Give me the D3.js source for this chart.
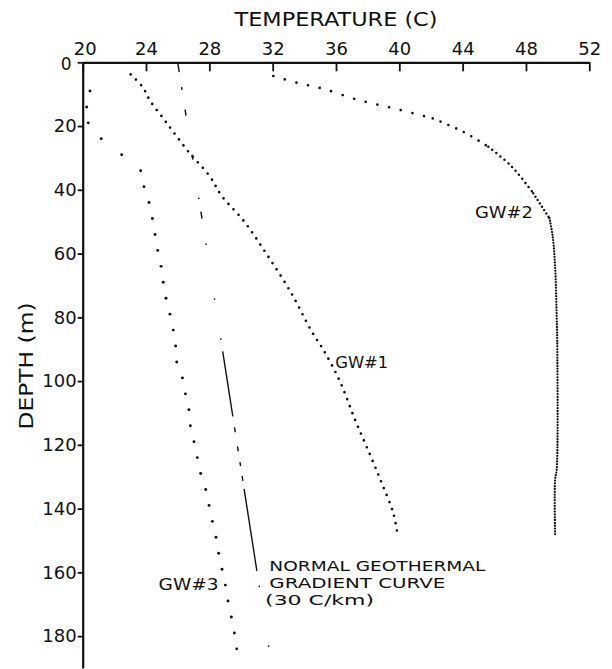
<!DOCTYPE html>
<html><head><meta charset="utf-8">
<script src="https://cdn.jsdelivr.net/npm/d3@7"></script>
<style>
body{margin:0;background:#fff}
svg{display:block}
text{font-family:"DejaVu Sans",sans-serif;fill:#111}
</style>
</head><body>
<svg id="c" width="612" height="669"></svg>
<script>
// ---- data ----
const tempTicks = [20, 24, 28, 32, 36, 40, 44, 48, 52];
const depthTicks = [0, 20, 40, 60, 80, 100, 120, 140, 160, 180];

// GW#1 temperature profile (key readings along the dotted curve)
const gw1Temp  = [23.03, 23.79, 24.25, 25.09, 25.72, 26.67, 28.00, 28.78, 30.21, 31.58, 33.14, 34.47, 35.20, 36.25, 37.20, 38.15, 38.89, 39.62, 39.87];
const gw1Depth = [3.8, 7.8, 12.0, 17.6, 21.8, 28.0, 35.6, 41.9, 50.0, 59.9, 72.1, 84.5, 90.2, 100.1, 112.1, 123.1, 132.0, 141.4, 147.6];

// GW#2 temperature profile
const gw2Temp  = [32.04, 33.52, 35.10, 37.41, 39.77, 42.11, 44.04, 45.62, 47.10, 48.46, 49.48, 49.69, 49.84, 49.94, 49.98, 49.94, 49.84, 49.84];
const gw2Depth = [4.3, 6.4, 8.2, 11.8, 14.6, 17.6, 21.8, 26.5, 32.7, 41.1, 48.9, 54.7, 64.1, 79.7, 90.2, 127.8, 130.9, 148.1];

// GW#3 temperature readings (every 5 m)
const gw3Temp  = [20.46, 20.25, 20.35, 21.17, 22.46, 23.66, 23.87, 24.19, 24.40, 24.57, 24.74, 24.95, 25.09, 25.26, 25.51, 25.72, 25.87, 25.94, 26.30, 26.49, 26.71, 26.80, 27.03, 27.24, 27.45, 27.77, 27.98, 28.19, 28.42, 28.59, 28.80, 29.01, 29.18, 29.39, 29.58, 29.73];
const gw3Depth = [9, 14, 19, 24, 29, 34, 39, 44, 49, 54, 59, 64, 69, 74, 79, 84, 89, 94, 99, 104, 109, 114, 119, 124, 129, 134, 139, 144, 149, 154, 159, 164, 169, 174, 179, 184];

// Normal geothermal gradient (30 C/km)
const normalTemp  = [26.0, 31.8];
const normalDepth = [0, 185];

// ---- chart ----
const svg = d3.select("#c");
const x = d3.scaleLinear().domain([20, 52]).range([82.7, 589.3]);
const y = d3.scaleLinear().domain([0, 190]).range([62.3, 668]);

const zip = (t, d) => t.map((v, i) => ({t: v, d: d[i]}));
const line = d3.line().x(p => x(p.t)).y(p => y(p.d)).curve(d3.curveCatmullRom);

// axes
const ax = svg.append("g").attr("transform", `translate(0,${y(0)})`)
  .call(d3.axisTop(x).tickValues(tempTicks).tickSize(-9).tickSizeOuter(0).tickPadding(7).tickFormat(d3.format("d")));
const ay = svg.append("g").attr("transform", `translate(${x(20)},0)`)
  .call(d3.axisLeft(y).tickValues(depthTicks).tickSize(5).tickSizeOuter(0).tickPadding(1).tickFormat(d3.format("d")));
[ax, ay].forEach(g => {
  g.attr("font-family", null).attr("font-size", null);
  g.select(".domain").attr("stroke", "#111").attr("stroke-width", 2.2);
  g.selectAll(".tick line").attr("stroke", "#111").attr("stroke-width", 1.8);
  g.selectAll(".tick text").attr("fill", "#111").style("font-size", "18px");
});
// keep the corner labels "20" and "0" apart
ax.selectAll(".tick text").filter(d => d === 20).attr("dx", 2);
ay.selectAll(".tick text").filter(d => d === 0).attr("dx", -5).attr("dy", "0.42em").style("font-size", "17px");

// normal gradient line (dash-dot style)
svg.append("path").datum(zip(normalTemp, normalDepth))
  .attr("d", d3.line().x(p => x(p.t)).y(p => y(p.d)))
  .attr("fill", "none").attr("stroke", "#111").attr("stroke-width", 1.4)
  .attr("stroke-dasharray", "10,15,3,20,6,39.5,5,38.4,1.5,12.7,7,25.3,1.5,54,1.5,39,1.5,11.7,65.8,11,5,14.3,5,11,4,10,5,8,83,15,1.5,59,1.5,200");

// GW#1 dotted
svg.append("path").datum(zip(gw1Temp, gw1Depth))
  .attr("d", line).attr("fill", "none").attr("stroke", "#111")
  .attr("stroke-width", 2.7).attr("stroke-linecap", "round")
  .attr("stroke-dasharray", "0,7.4");

// GW#2 dotted, density increasing with depth
const gw2 = zip(gw2Temp, gw2Depth);
const gw2Style = [[0, 5, 12, 2.7], [5, 7, 8.5, 2.6], [7, 9, 5.2, 2.5], [9, 10, 4, 2.4], [10, 17, 2.8, 2.3]];
gw2Style.forEach(([a, b, gap, w]) => {
  svg.append("path").datum(gw2.slice(a, b + 1))
    .attr("d", line).attr("fill", "none").attr("stroke", "#111")
    .attr("stroke-width", w).attr("stroke-linecap", "round")
    .attr("stroke-dasharray", `0,${gap}`);
});

// GW#3 dots
svg.append("g").selectAll("circle").data(zip(gw3Temp, gw3Depth)).join("circle")
  .attr("cx", p => x(p.t)).attr("cy", p => y(p.d)).attr("r", 1.45).attr("fill", "#111");

// titles
svg.append("text").attr("x", (x(20) + x(52)) / 2).attr("y", 26)
  .attr("text-anchor", "middle").style("font-size", "19px")
  .attr("textLength", 203).attr("lengthAdjust", "spacingAndGlyphs").text("TEMPERATURE (C)");
svg.append("text")
  .attr("transform", `translate(33,366) rotate(-90)`)
  .attr("text-anchor", "middle").style("font-size", "19px")
  .attr("textLength", 127).attr("lengthAdjust", "spacingAndGlyphs").text("DEPTH (m)");

// annotations
const ann = (txt, t, d, len, size) => svg.append("text")
  .attr("x", x(t)).attr("y", y(d))
  .style("font-size", size + "px").attr("textLength", len).attr("lengthAdjust", "spacingAndGlyphs").text(txt);
ann("GW#1", 35.95, 95.8, 53, 16);
ann("GW#2", 44.78, 48.8, 58, 16);
ann("GW#3", 24.79, 165.4, 60, 16);
ann("NORMAL GEOTHERMAL", 31.79, 159.6, 216, 14.5);
ann("GRADIENT CURVE", 31.79, 164.9, 176, 14.5);
ann("(30 C/km)", 31.52, 170.2, 109, 14.5);
</script>
</body></html>
